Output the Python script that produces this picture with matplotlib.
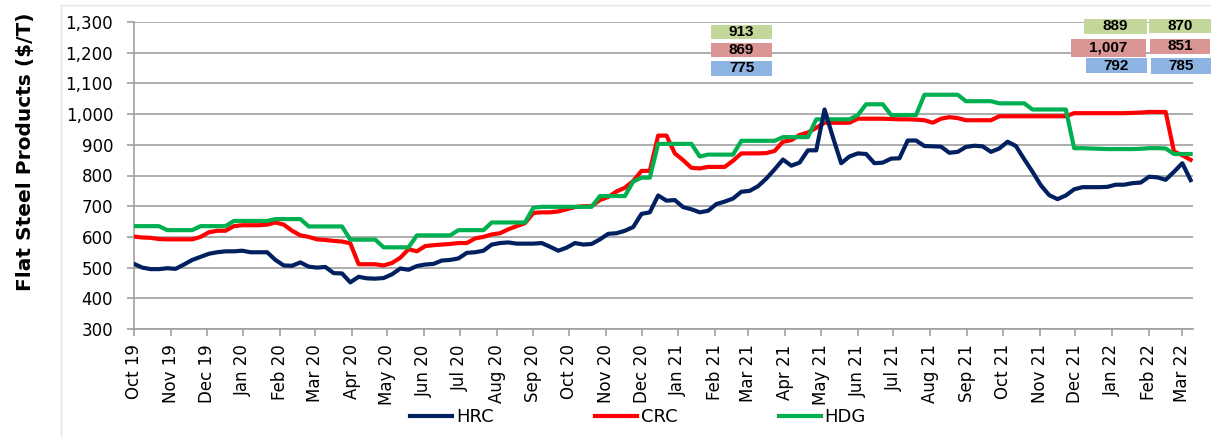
import matplotlib
matplotlib.use('Agg')
import matplotlib.pyplot as plt
import matplotlib.dates as mdates
from matplotlib.ticker import FuncFormatter
from matplotlib.patches import Rectangle
from matplotlib.lines import Line2D
import pandas as pd

# ---------------- data ----------------
start_date = '2019-10-01'
n_weeks = 128
dates = pd.date_range(start_date, periods=n_weeks, freq='7D')

series_names = ['HRC', 'CRC', 'HDG']

hrc = [512, 500, 495, 495, 498, 496, 510, 525, 535, 545,
       550, 553, 553, 555, 550, 550, 550, 525, 507, 506,
       517, 503, 500, 502, 482, 481, 452, 470, 465, 464,
       466, 478, 497, 493, 505, 510, 512, 523, 525, 530,
       548, 550, 555, 575, 580, 582, 578, 578, 578, 580,
       568, 555, 565, 580, 575, 577, 592, 610, 612, 620,
       632, 675, 680, 735, 718, 720, 697, 690, 680, 685,
       707, 715, 725, 747, 750, 765, 790, 820, 852, 832,
       842, 882, 882, 1015, 925, 840, 862, 872, 870, 840,
       842, 855, 856, 914, 914, 896, 895, 894, 874, 877,
       893, 897, 895, 877, 888, 910, 896, 853, 812, 768,
       736, 723, 735, 755, 762, 762, 762, 763, 770, 770,
       775, 777, 796, 794, 786, 812, 840, 785]

crc = [601, 598, 597, 593, 592, 592, 592, 592, 600, 615,
       620, 620, 635, 638, 638, 638, 640, 647, 640, 620,
       605, 600, 592, 590, 587, 585, 579, 511, 511, 511,
       507, 515, 532, 560, 553, 570, 573, 575, 577, 580,
       580, 595, 600, 608, 612, 625, 635, 645, 678, 680,
       680, 683, 690, 697, 700, 700, 720, 730, 748, 760,
       782, 815, 815, 930, 930, 872, 850, 825, 823, 828,
       828, 828, 848, 872, 872, 872, 873, 880, 910, 915,
       932, 940, 955, 972, 972, 972, 972, 985, 985, 985,
       985, 984, 983, 983, 982, 980, 972, 985, 990, 987,
       980, 980, 980, 980, 993, 993, 993, 993, 993, 993,
       993, 993, 993, 1003, 1003, 1003, 1003, 1003, 1003, 1003,
       1004, 1005, 1007, 1007, 1007, 878, 866, 851]

hdg = [635, 635, 635, 635, 622, 622, 622, 622, 635, 635,
       635, 635, 652, 652, 652, 652, 652, 658, 658, 658,
       658, 634, 634, 634, 634, 634, 591, 591, 591, 591,
       566, 566, 566, 566, 605, 605, 605, 605, 605, 622,
       622, 622, 622, 647, 647, 647, 647, 647, 695, 698,
       698, 698, 698, 698, 698, 698, 733, 733, 733, 733,
       780, 793, 793, 903, 903, 903, 903, 903, 862, 868,
       868, 868, 868, 913, 913, 913, 913, 913, 925, 925,
       925, 925, 983, 983, 983, 983, 983, 997, 1032, 1032,
       1032, 997, 997, 997, 997, 1063, 1063, 1063, 1063, 1063,
       1042, 1042, 1042, 1042, 1035, 1035, 1035, 1035, 1015, 1015,
       1015, 1015, 1015, 889, 889, 888, 887, 886, 886, 886,
       886, 887, 889, 889, 888, 870, 870, 870]

# value boxes (text labels)
box_hdg_labels = ['913', '889', '870']
box_crc_labels = ['869', '1,007', '851']
box_hrc_labels = ['775', '792', '785']

y_ticks = list(range(300, 1301, 100))

# ---------------- styles ----------------
W, H = 1211, 437
c_hrc, c_crc, c_hdg = '#002060', '#ff0000', '#00b050'
c_grid = '#a0a0a0'
box_green, box_pink, box_blue = '#c4d79b', '#da9694', '#8db4e2'

fig = plt.figure(figsize=(W / 100, H / 100), dpi=100)
ax = fig.add_axes([134 / W, 1 - 329 / H, (1193 - 134) / W, (329 - 22) / H])

ax.plot(dates, crc, color=c_crc, lw=3, zorder=3, solid_joinstyle='round')
ax.plot(dates, hdg, color=c_hdg, lw=3, zorder=4, solid_joinstyle='round')
ax.plot(dates, hrc, color=c_hrc, lw=3, zorder=5, solid_joinstyle='round')

ax.set_ylim(300, 1300)
ax.set_yticks(y_ticks)
ax.yaxis.set_major_formatter(FuncFormatter(lambda v, p: f'{int(v):,}'))
ax.set_xlim(pd.Timestamp('2019-10-01'), pd.Timestamp('2022-03-10'))
ax.xaxis.set_major_locator(mdates.MonthLocator())
ax.xaxis.set_major_formatter(mdates.DateFormatter('%b %y'))
for lab in ax.get_xticklabels():
    lab.set_rotation(90)
ax.tick_params(axis='both', labelsize=12, colors=c_grid, labelcolor='black',
               length=5, width=1.2)
ax.tick_params(axis='y', pad=10)
ax.tick_params(axis='x', pad=6)
ax.grid(axis='y', color=c_grid, lw=1.2)
ax.set_axisbelow(True)
for s in ['top', 'right']:
    ax.spines[s].set_visible(False)
for s in ['left', 'bottom']:
    ax.spines[s].set_color(c_grid)
    ax.spines[s].set_linewidth(1.2)

fig.text(26 / W, 1 - 152 / H, 'Flat Steel Products ($/T)', rotation=90,
         ha='center', va='center', fontsize=14.5, fontweight='bold')

handles = [Line2D([], [], color=c, lw=3) for c in (c_hrc, c_crc, c_hdg)]
fig.legend(handles, series_names, loc='center left',
           bbox_to_anchor=(410 / W, 1 - 417 / H), ncol=3, frameon=False,
           fontsize=13, handlelength=2.35, handletextpad=0.2,
           columnspacing=5.6, borderpad=0, borderaxespad=0)

# outer chart-area frame (light)
fig.add_artist(Line2D([61 / W, 1], [1 - 5 / H, 1 - 5 / H],
                      transform=fig.transFigure, color='#e4e4e4', lw=1))
fig.add_artist(Line2D([61 / W, 61 / W], [0, 1 - 5 / H],
                      transform=fig.transFigure, color='#e4e4e4', lw=1))

# value boxes
box_specs = [
    (box_hdg_labels[0], (711, 25, 772, 39), box_green),
    (box_crc_labels[0], (711, 43, 772, 57), box_pink),
    (box_hrc_labels[0], (711, 61, 772, 76), box_blue),
    (box_hdg_labels[1], (1084, 19, 1147, 34), box_green),
    (box_crc_labels[1], (1071, 39, 1146, 57), box_pink),
    (box_hrc_labels[1], (1086, 58, 1147, 73), box_blue),
    (box_hdg_labels[2], (1149, 19, 1211, 33), box_green),
    (box_crc_labels[2], (1150, 39, 1210, 54), box_pink),
    (box_hrc_labels[2], (1151, 58, 1211, 74), box_blue),
]
for label, (x0, y0, x1, y1), col in box_specs:
    fig.add_artist(Rectangle((x0 / W, 1 - y1 / H), (x1 - x0) / W, (y1 - y0) / H,
                             transform=fig.transFigure, facecolor=col,
                             edgecolor='none', zorder=10))
    fig.text((x0 + x1) / 2 / W, 1 - (y0 + y1) / 2 / H, label, ha='center',
             va='center', fontsize=11, fontweight='bold', color='black',
             family='Liberation Sans', zorder=11)

fig.savefig('out.png', dpi=100, facecolor='white')
